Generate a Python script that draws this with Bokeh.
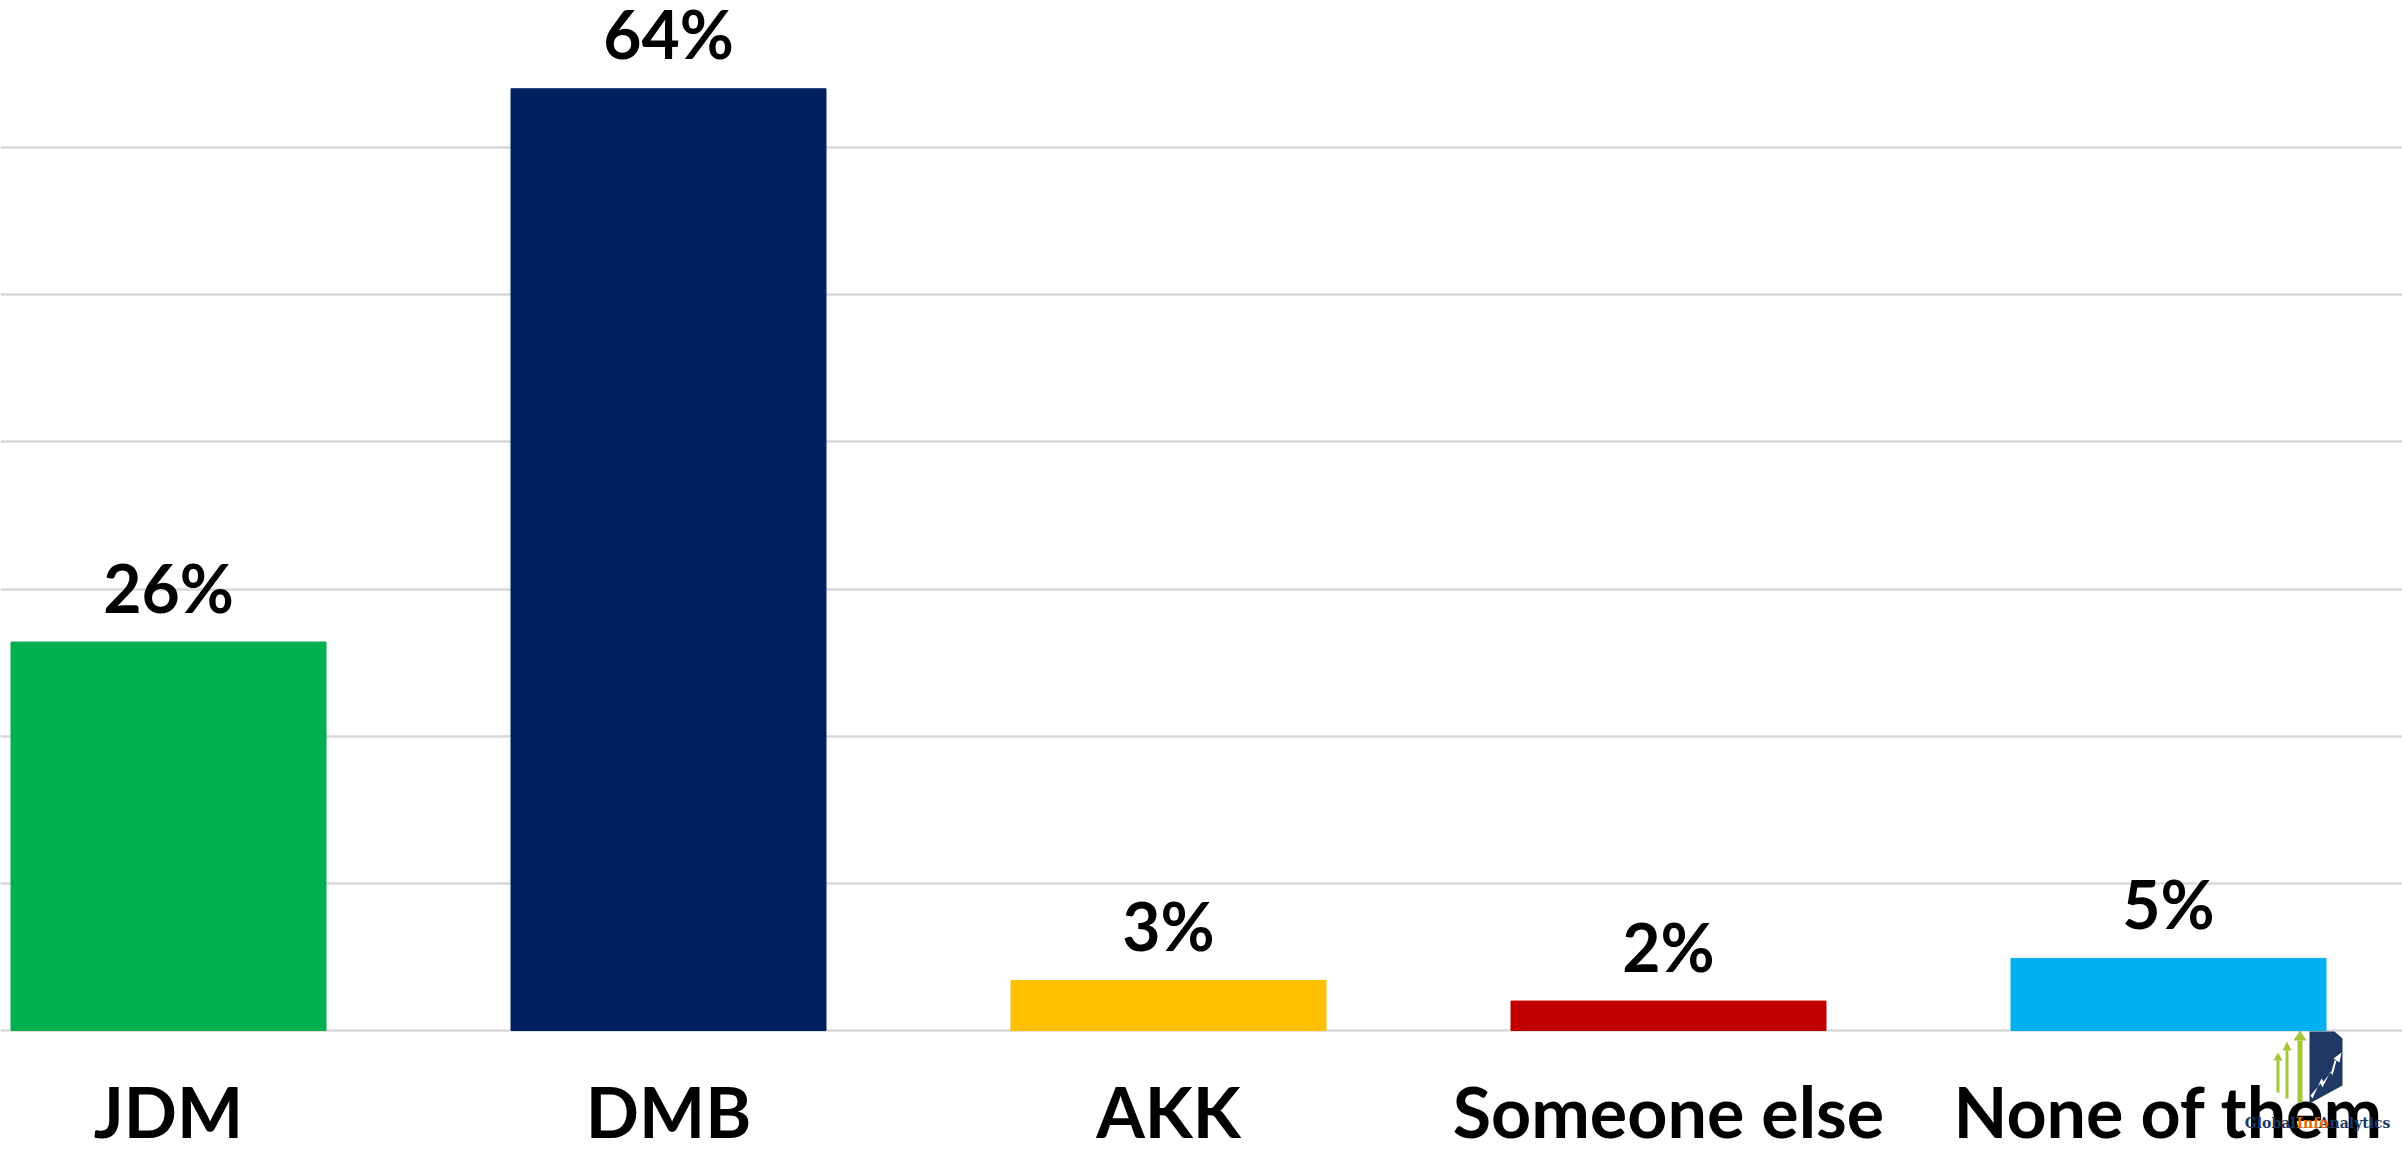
from bokeh.plotting import figure
from bokeh.models import Range1d, FixedTicker, ColumnDataSource, PolyAnnotation, Label
from bokeh.core.properties import value
from bokeh.embed import file_html
from bokeh.resources import INLINE

categories = ["JDM", "DMB", "AKK", "Someone else", "None of them"]
shares = [26.4, 64.0, 3.4, 2.0, 4.9]
bar_colors = ["#00B050", "#002060", "#FFC000", "#C00000", "#00B0F0"]
grid_ticks = [0, 10, 20, 30, 40, 50, 60, 70]

xs = list(range(len(categories)))
labels = [f"{round(v)}%" for v in shares]
src = ColumnDataSource(dict(x=xs, top=shares, color=bar_colors, label=labels))

FW, FH = 2402, 1154
PX_PER_UNIT = 1032 / 70.136
X0, X1 = -0.336, 4.468
Y1 = 70.0
Y0 = Y1 - FH / PX_PER_UNIT

p = figure(frame_width=FW, frame_height=FH, output_backend="svg",
           toolbar_location=None, x_range=Range1d(X0, X1),
           y_range=Range1d(Y0, Y1), min_border_left=0,
           min_border_right=0, min_border_top=0, min_border_bottom=0)
p.outline_line_color = None
p.background_fill_color = "white"
p.border_fill_color = "white"


def dx(px):
    return X0 + px * (X1 - X0) / FW


def dy(py):
    return Y1 - py * (Y1 - Y0) / FH


p.vbar(x="x", top="top", bottom=0, width=0.63, color="color", source=src)
p.text(x="x", y="top", text="label", source=src, text_align="center",
       text_baseline="alphabetic", y_offset=-55, text_font=value("Lato"),
       text_font_style="bold", text_font_size="66px", text_color="black")

p.yaxis.visible = False
p.ygrid.ticker = FixedTicker(ticks=grid_ticks)
p.ygrid.grid_line_color = "#d9d9d9"
p.ygrid.grid_line_width = 2.5
p.xgrid.grid_line_color = None

# --- small publisher logo (decoration; pixel positions mapped to data space) ---
def poly(pxs, pys, color):
    p.add_layout(PolyAnnotation(xs=[dx(v) for v in pxs], ys=[dy(v) for v in pys],
                                fill_color=color, fill_alpha=1.0, line_color=None,
                                level="annotation"))

navy = "#1F3864"
green = "#A4C639"
poly([2309, 2334, 2342, 2342, 2309], [1031, 1031, 1038, 1085, 1103], navy)
for sx0, sx1, hx0, hx1, tip, hb, bot in [(2276, 2279, 2273, 2282, 1052, 1060, 1092),
                                          (2285, 2288, 2282, 2291, 1041, 1050, 1098),
                                          (2297, 2302, 2293, 2306, 1030, 1040, 1102)]:
    poly([sx0, sx1, sx1, sx0], [hb, hb, bot, bot], green)
    poly([hx0, (hx0 + hx1) / 2, hx1], [hb, tip, hb], green)
poly([2310, 2320, 2322, 2330, 2332, 2336, 2334, 2331, 2323, 2321, 2312],
     [1095, 1083, 1087, 1071, 1075, 1060, 1060, 1071, 1081, 1078, 1098], "white")
poly([2333, 2341, 2339], [1058, 1052, 1062], "white")
for txt, px_right, col in [("Analytics", 2390, navy), ("Info ", 2333, "#E36C09"),
                           ("Global ", 2300, navy)]:
    p.add_layout(Label(x=dx(px_right), y=dy(1122), text=txt, text_align="right",
                       text_baseline="alphabetic", text_color=col,
                       text_font="DejaVu Serif", text_font_style="bold",
                       text_font_size="14px", level="annotation"))

ax = p.xaxis[0]
ax.fixed_location = dy(1032)
ax.ticker = FixedTicker(ticks=xs)
ax.major_label_overrides = {i: c for i, c in enumerate(categories)}
ax.axis_line_color = None
ax.major_tick_line_color = None
ax.minor_tick_line_color = None
ax.major_tick_out = 0
ax.major_label_standoff = 36
ax.major_label_text_font = "Lato"
ax.major_label_text_font_style = "bold"
ax.major_label_text_font_size = "70px"
ax.major_label_text_color = "black"

open("out.html", "w").write(file_html(p, INLINE))
